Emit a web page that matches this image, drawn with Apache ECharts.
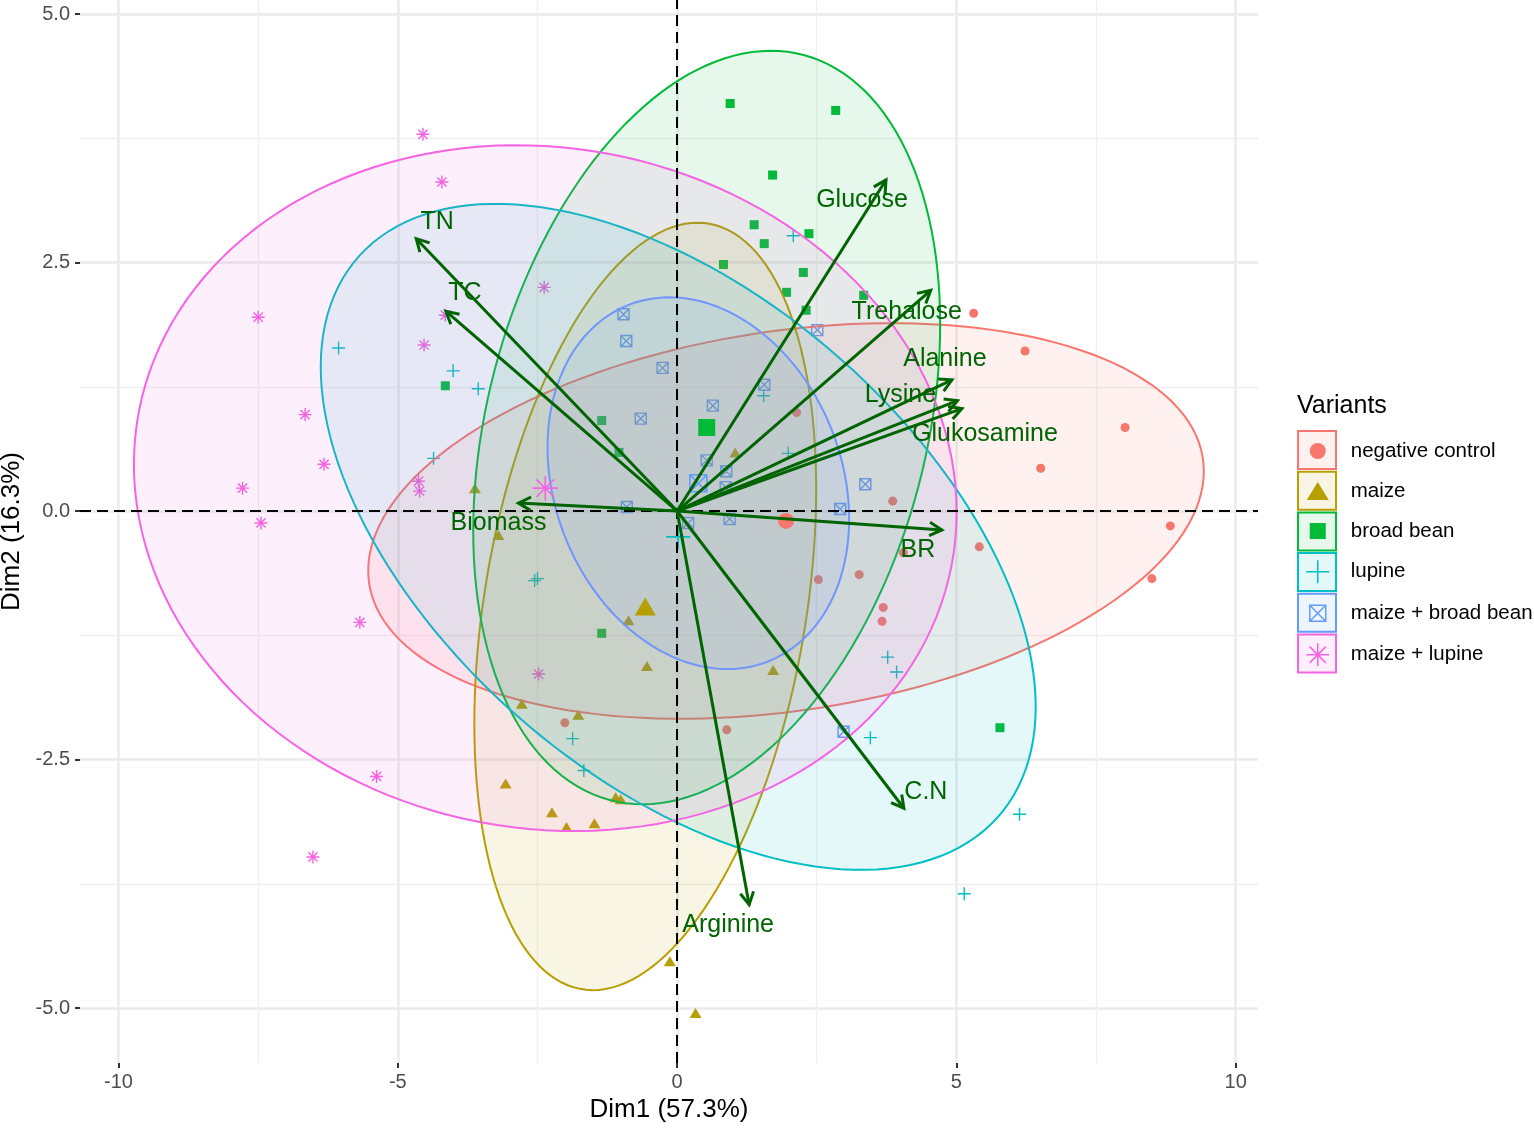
<!DOCTYPE html>
<html>
<head>
<meta charset="utf-8">
<script src="https://cdn.jsdelivr.net/npm/echarts@6/dist/echarts.min.js"></script>
<style>
html,body{margin:0;padding:0;background:#ffffff;}
#chart{width:1534px;height:1128px;}
</style>
</head>
<body>
<div id="chart"></div>
<script>
// ---------------- DATA ----------------
const groups = ['negative control', 'maize', 'broad bean', 'lupine', 'maize + broad bean', 'maize + lupine'];
const groupColors = ['#F8766D', '#B79F00', '#00BA38', '#00BFC4', '#619CFF', '#F564E3'];

const negativeControlPoints = [
  [5.31, 1.99], [6.23, 1.61], [8.02, 0.84], [6.51, 0.43], [8.83, -0.15], [8.50, -0.68],
  [5.41, -0.36], [3.86, 0.10], [4.05, -0.42], [3.26, -0.64], [2.53, -0.69], [3.69, -0.97],
  [3.67, -1.11], [2.14, 0.99], [0.89, -2.20], [-2.01, -2.13]
];
const maizePoints = [
  [-3.62, 0.23], [-3.20, -0.24], [-0.87, -1.10], [-0.54, -1.56], [1.72, -1.60], [-2.78, -1.94],
  [-1.77, -2.05], [1.04, 0.59], [-3.07, -2.74], [-2.24, -3.03], [-1.98, -3.18], [-1.48, -3.14],
  [-1.10, -2.88], [-1.01, -2.90], [-0.13, -4.53], [0.33, -5.05]
];
const broadBeanPoints = [
  [0.95, 4.10], [2.84, 4.03], [1.71, 3.38], [1.38, 2.88], [1.56, 2.69], [2.36, 2.79],
  [0.83, 2.48], [2.26, 2.40], [1.96, 2.20], [2.31, 2.02], [3.34, 2.17], [-4.15, 1.26],
  [-1.35, 0.91], [-1.04, 0.59], [-1.35, -1.23], [5.78, -2.18]
];
const lupinePoints = [
  [-6.06, 1.64], [-4.01, 1.41], [-3.56, 1.23], [-4.36, 0.53], [2.08, 2.77], [1.55, 1.16],
  [1.99, 0.58], [-2.55, -0.70], [-2.50, -0.68], [-1.87, -2.29], [-1.67, -2.61], [3.77, -1.47],
  [3.93, -1.62], [3.46, -2.28], [6.13, -3.05], [5.14, -3.85]
];
const maizeBroadBeanPoints = [
  [-0.96, 1.98], [-0.91, 1.71], [-0.26, 1.44], [-0.65, 0.93], [0.64, 1.06], [1.56, 1.27],
  [2.51, 1.82], [0.53, 0.51], [0.88, 0.40], [0.87, 0.24], [-0.90, 0.04], [0.20, -0.12],
  [0.94, -0.08], [3.37, 0.27], [2.92, 0.02], [2.98, -2.22]
];
const maizeLupinePoints = [
  [-4.55, 3.79], [-4.21, 3.31], [-7.50, 1.95], [-4.15, 1.97], [-4.53, 1.67], [-2.38, 2.25],
  [-6.66, 0.97], [-6.32, 0.47], [-7.78, 0.23], [-7.45, -0.12], [-4.63, 0.30], [-4.61, 0.20],
  [-5.68, -1.12], [-5.38, -2.67], [-6.52, -3.48], [-2.48, -1.64]
];
const groupPoints = [negativeControlPoints, maizePoints, broadBeanPoints, lupinePoints, maizeBroadBeanPoints, maizeLupinePoints];

// group means (large symbols) = ellipse centres
const meanX = [1.95, -0.57, 0.53, 0.02, 0.38, -2.36];
const meanY = [-0.10, -0.96, 0.84, -0.26, 0.28, 0.23];
// ellipse shape: half width (Dim1), half height (Dim2),
// and Dim2 offset of the right-most point from the centre
const ellipseHalfWidth = [7.48, 3.06, 4.18, 6.40, 2.70, 7.365];
const ellipseHalfHeight = [1.99, 3.86, 3.79, 3.35, 1.87, 3.45];
const ellipseTilt = [0.50, 1.18, 1.04, -1.71, -0.36, -0.24];

// variable arrows (biplot loadings, scaled)
const varNames = ['Glucose', 'Trehalose', 'Alanine', 'Lysine', 'Glukosamine', 'BR', 'C.N', 'Arginine', 'Biomass', 'TN', 'TC'];
const varX = [3.74, 4.54, 4.92, 5.02, 5.10, 4.74, 4.06, 1.29, -2.84, -4.67, -4.14];
const varY = [3.33, 2.22, 1.32, 1.11, 1.03, -0.19, -2.99, -3.96, 0.08, 2.74, 2.01];

// axes
const xTickValues = [-10, -5, 0, 5, 10];
const xTickLabels = ['-10', '-5', '0', '5', '10'];
const xMinorValues = [-7.5, -2.5, 2.5, 7.5];
const yTickValues = [-5, -2.5, 0, 2.5, 5];
const yTickLabels = ['-5.0', '-2.5', '0.0', '2.5', '5.0'];
const yMinorValues = [-3.75, -1.25, 1.25, 3.75];

// ---------------- STYLE ----------------
const FONT = '"Liberation Sans", Arial, Helvetica, sans-serif';
const ARROW_COLOR = '#006400';
const X_MIN = -10.69, X_MAX = 10.40, Y_MIN = -5.553, Y_MAX = 5.141;

const PLUS = 'path://M0,5L10,5M5,0L5,10';
const ASTER = 'path://M5,0L5,10M0,5L10,5M1.46,1.46L8.54,8.54M1.46,8.54L8.54,1.46';
const BOXX = 'path://M0,0L10,0L10,10L0,10ZM0,0L10,10M10,0L0,10';
const pointSymbols = ['circle', 'triangle', 'rect', PLUS, BOXX, ASTER];
const strokeOnly = [false, false, false, true, true, true];
const pointSizes = [9, [12, 10], 9, 13, 11, 13];
const meanSizes = [16, [21, 18], 17, 24, 17, 25];

const legendIcons = [
  'path://M0,0M48,24M12,12A8,8,0,1,1,28,12A8,8,0,1,1,12,12Z',
  'path://M0,0M48,24M20,3L31,21L9,21Z',
  'path://M0,0M48,24M12,4L28,4L28,20L12,20Z',
  'path://M0,0M48,24M8.5,12L31.5,12M20,0.5L20,23.5',
  'path://M0,0M48,24M12,4L28,4L28,20L12,20ZM12,4L28,20M28,4L12,20',
  'path://M0,0M48,24M20,0.5L20,23.5M8.5,12L31.5,12M11.9,3.9L28.1,20.1M11.9,20.1L28.1,3.9'
];

const labelOffsets = {
  'Glucose': [-24, 20], 'Trehalose': [-24, 22], 'Alanine': [-7, -21], 'Lysine': [-57, -6],
  'Glukosamine': [23, 25], 'BR': [-24, 20], 'C.N': [22, -16], 'Arginine': [-21, 20],
  'Biomass': [-20, 20], 'TN': [21, -17], 'TC': [19, -18]
};

function rgba(hex, a) {
  const r = parseInt(hex.slice(1, 3), 16), g = parseInt(hex.slice(3, 5), 16), b = parseInt(hex.slice(5, 7), 16);
  return 'rgba(' + r + ',' + g + ',' + b + ',' + a + ')';
}
function fmt(values, labels) {
  return function (v) {
    for (let i = 0; i < values.length; i++) if (Math.abs(values[i] - v) < 1e-9) return labels[i];
    return '';
  };
}

function itemStyleFor(i, bw) {
  return strokeOnly[i]
    ? { color: 'transparent', borderColor: groupColors[i], borderWidth: bw, opacity: 1 }
    : { color: groupColors[i], borderWidth: 0, opacity: 1 };
}

const series = [];

// raw points (drawn under the ellipses)
groups.forEach(function (g, i) {
  series.push({
    type: 'scatter', name: g, data: groupPoints[i], z: 2, silent: true,
    symbol: pointSymbols[i], symbolSize: pointSizes[i], itemStyle: itemStyleFor(i, 1.4)
  });
});

// concentration ellipses
series.push({
  type: 'custom', name: 'ellipses', z: 3, silent: true, clip: true,
  data: groups.map(function (g, i) { return [meanX[i], meanY[i], ellipseHalfWidth[i], ellipseHalfHeight[i], ellipseTilt[i]]; }),
  encode: { x: 0, y: 1 },
  renderItem: function (params, api) {
    const cx = api.value(0), cy = api.value(1), ax = api.value(2), ay = api.value(3), k = api.value(4);
    const m = Math.sqrt(Math.max(ay * ay - k * k, 0));
    const pts = [];
    const n = 160;
    for (let j = 0; j < n; j++) {
      const t = j / n * 2 * Math.PI;
      pts.push(api.coord([cx + ax * Math.cos(t), cy + k * Math.cos(t) + m * Math.sin(t)]));
    }
    const c = groupColors[params.dataIndex];
    return { type: 'polygon', shape: { points: pts }, style: { fill: rgba(c, 0.1), stroke: c, lineWidth: 2 } };
  }
});

// group means
groups.forEach(function (g, i) {
  series.push({
    type: 'scatter', name: g + ' (mean)', data: [[meanX[i], meanY[i]]], z: 4, silent: true,
    symbol: pointSymbols[i], symbolSize: meanSizes[i], itemStyle: itemStyleFor(i, 1.6)
  });
});

// dashed zero lines
series.push({
  type: 'scatter', name: 'zero', data: [[0, 0]], symbolSize: 0, z: 5, silent: true,
  markLine: {
    silent: true, symbol: 'none', animation: false,
    label: { show: false },
    lineStyle: { color: '#000000', width: 2, type: [11, 6], opacity: 1 },
    data: [{ xAxis: 0 }, { yAxis: 0 }]
  }
});

// variable arrows
series.push({
  type: 'custom', name: 'arrows', z: 6, silent: true,
  data: varNames.map(function (n, i) { return [varX[i], varY[i]]; }),
  encode: { x: 0, y: 1 },
  renderItem: function (params, api) {
    const o = api.coord([0, 0]);
    const t = api.coord([api.value(0), api.value(1)]);
    const ang = Math.atan2(t[1] - o[1], t[0] - o[0]);
    const L = 14, A = Math.PI / 6.3;
    const p1 = [t[0] - L * Math.cos(ang - A), t[1] - L * Math.sin(ang - A)];
    const p2 = [t[0] - L * Math.cos(ang + A), t[1] - L * Math.sin(ang + A)];
    return {
      type: 'group', children: [
        { type: 'line', shape: { x1: o[0], y1: o[1], x2: t[0], y2: t[1] }, style: { stroke: ARROW_COLOR, lineWidth: 3 } },
        { type: 'polyline', shape: { points: [p1, t, p2] }, style: { stroke: ARROW_COLOR, lineWidth: 3, fill: null } }
      ]
    };
  }
});

// variable labels
series.push({
  type: 'scatter', name: 'variables', z: 7, silent: true,
  symbolSize: 1, itemStyle: { color: 'rgba(0,0,0,0)', opacity: 1 },
  data: varNames.map(function (n, i) {
    return { name: n, value: [varX[i], varY[i]], label: { offset: labelOffsets[n] } };
  }),
  label: {
    show: true, position: 'inside', formatter: '{b}', color: ARROW_COLOR, opacity: 1,
    textBorderWidth: 0, textBorderColor: 'transparent',
    fontSize: 25, fontFamily: FONT, align: 'center', verticalAlign: 'middle'
  }
});

const option = {
  backgroundColor: '#ffffff',
  animation: false,
  textStyle: { fontFamily: FONT },
  title: {
    text: 'Variants', left: 1297, top: 394, padding: 0,
    textStyle: { fontSize: 25, fontWeight: 'normal', color: '#000000', fontFamily: FONT }
  },
  legend: {
    show: true, orient: 'vertical', left: 1297, top: 439, padding: 0,
    itemWidth: 48, itemHeight: 24, itemGap: 16.0, symbolKeepAspect: true, selectedMode: false,
    textStyle: { fontSize: 20.5, color: '#000000', fontFamily: FONT, lineHeight: 24, height: 24 },
    data: groups.map(function (g, i) {
      return {
        name: g, icon: legendIcons[i],
        itemStyle: strokeOnly[i]
          ? { color: 'transparent', borderColor: groupColors[i], borderWidth: 1.5, opacity: 1 }
          : { color: groupColors[i], borderWidth: 0, opacity: 1 }
      };
    })
  },
  graphic: groups.map(function (g, i) {
    return {
      type: 'rect', z: 0, silent: true,
      shape: { x: 1298, y: 431 + i * 40.7, width: 38, height: 38 },
      style: { fill: rgba(groupColors[i], 0.1), stroke: groupColors[i], lineWidth: 2 }
    };
  }),
  grid: { left: 80, right: 276, top: 0, bottom: 65, containLabel: false, outerBoundsMode: 'none' },
  xAxis: [
    {
      type: 'value', min: X_MIN, max: X_MAX, position: 'bottom',
      name: 'Dim1 (57.3%)', nameLocation: 'middle', nameGap: 33,
      nameTextStyle: { fontSize: 26, color: '#000000', fontFamily: FONT },
      axisLine: { show: false, onZero: false },
      axisTick: { show: true, length: 5, customValues: xTickValues, lineStyle: { color: '#333333', width: 2 } },
      axisLabel: { show: true, customValues: xTickValues, formatter: fmt(xTickValues, xTickLabels), fontSize: 20, color: '#4D4D4D', margin: 9, fontFamily: FONT },
      splitLine: { show: true, lineStyle: { color: '#EBEBEB', width: 2.5 } }
    },
    {
      type: 'value', min: X_MIN, max: X_MAX, position: 'bottom',
      axisLine: { show: false, onZero: false },
      axisTick: { show: false, customValues: xMinorValues },
      axisLabel: { show: false, customValues: xMinorValues },
      splitLine: { show: true, lineStyle: { color: '#F0F0F0', width: 1.4 } }
    }
  ],
  yAxis: [
    {
      type: 'value', min: Y_MIN, max: Y_MAX, position: 'left',
      name: 'Dim2 (16.3%)', nameLocation: 'middle', nameGap: 51, nameRotate: 90,
      nameTextStyle: { fontSize: 26, color: '#000000', fontFamily: FONT },
      axisLine: { show: false, onZero: false },
      axisTick: { show: true, length: 5, customValues: yTickValues, lineStyle: { color: '#333333', width: 2 } },
      axisLabel: { show: true, customValues: yTickValues, formatter: fmt(yTickValues, yTickLabels), fontSize: 20, color: '#4D4D4D', margin: 10, fontFamily: FONT },
      splitLine: { show: true, lineStyle: { color: '#EBEBEB', width: 2.5 } }
    },
    {
      type: 'value', min: Y_MIN, max: Y_MAX, position: 'left',
      axisLine: { show: false, onZero: false },
      axisTick: { show: false, customValues: yMinorValues },
      axisLabel: { show: false, customValues: yMinorValues },
      splitLine: { show: true, lineStyle: { color: '#F0F0F0', width: 1.4 } }
    }
  ],
  series: series
};

const chart = echarts.init(document.getElementById('chart'), null, { renderer: 'canvas' });
chart.setOption(option);
</script>
</body>
</html>
